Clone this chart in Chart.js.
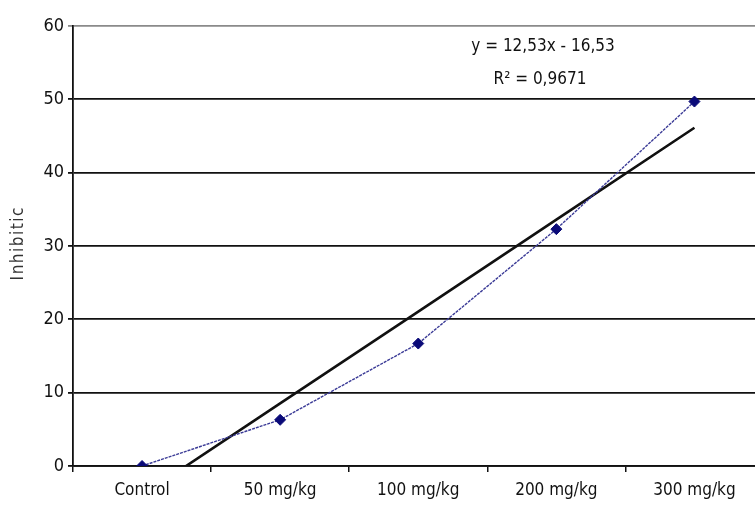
<!DOCTYPE html>
<html>
<head>
<meta charset="utf-8">
<script src="https://cdn.jsdelivr.net/npm/chart.js@4.4.1/dist/chart.umd.min.js"></script>
<style>
  html, body { margin: 0; padding: 0; background: #fff; overflow: hidden; }
  #wrap { width: 770px; height: 515px; }
</style>
</head>
<body>
<div id="wrap"><canvas id="c" width="770" height="515"></canvas></div>
<script>
const categories = ["Control", "50 mg/kg", "100 mg/kg", "200 mg/kg", "300 mg/kg"];
const inhibition = [0, 6.3, 16.7, 32.3, 49.7];
const trendValues = [-4.0, 8.53, 21.06, 33.59, 46.12];
const yTicks = [0, 10, 20, 30, 40, 50, 60];
const equationText = "y = 12,53x - 16,53";
const r2Text = "R\u00B2 = 0,9671";
const yTitle = "Inhibitic";

const FONT = "'DejaVu Sans Condensed', 'Liberation Sans Narrow', 'Liberation Sans', Arial, sans-serif";

const textPlugin = {
  id: 'texts',
  afterDatasetsDraw(chart) {
    const ctx = chart.ctx;
    const area = chart.chartArea;
    ctx.save();
    ctx.fillStyle = '#111';
    ctx.font = "17px " + FONT;
    ctx.textAlign = 'center';
    ctx.textBaseline = 'middle';
    ctx.fillText(equationText, 543, 47);
    ctx.fillText(r2Text, 540, 80);
    ctx.restore();

    ctx.save();
    ctx.fillStyle = '#333';
    ctx.font = "17px 'DejaVu Sans Condensed', 'DejaVu Sans', Arial, sans-serif";
    if ('letterSpacing' in ctx) ctx.letterSpacing = '1.5px';
    ctx.textAlign = 'center';
    ctx.textBaseline = 'middle';
    ctx.translate(19, (area.top + area.bottom) / 2 - 2);
    ctx.rotate(-Math.PI / 2);
    ctx.fillText(yTitle, 0.75, 0);
    ctx.restore();
  }
};

new Chart(document.getElementById('c'), {
  type: 'line',
  data: {
    labels: categories,
    datasets: [
      {
        label: 'Inhibition',
        data: inhibition,
        borderColor: '#3a3a96',
        borderWidth: 1.4,
        borderDash: [3, 1],
        pointStyle: 'rectRot',
        pointRadius: 5.5,
        pointBackgroundColor: '#0a0a78',
        pointBorderColor: '#0a0a78',
        pointBorderWidth: 1,
        tension: 0,
        order: 1
      },
      {
        label: 'Trend',
        data: trendValues,
        borderColor: '#111',
        borderWidth: 2.6,
        pointRadius: 0,
        tension: 0,
        order: 2
      }
    ]
  },
  options: {
    responsive: false,
    animation: false,
    layout: { padding: { top: 26, right: 3, bottom: 0, left: 0 } },
    plugins: {
      legend: { display: false },
      tooltip: { enabled: false }
    },
    scales: {
      x: {
        offset: true,
        grid: {
          offset: true,
          drawOnChartArea: false,
          drawTicks: true,
          tickLength: 6,
          color: '#111',
          lineWidth: 1.5
        },
        border: { display: true, color: '#111', width: 1.8 },
        ticks: {
          color: '#111',
          font: { family: FONT, size: 17 },
          padding: 8,
          maxRotation: 0,
          autoSkip: false
        },
        afterFit(scale) { scale.height = 49; }
      },
      y: {
        min: 0,
        max: 60,
        afterBuildTicks(scale) { scale.ticks = yTicks.map(v => ({ value: v })); },
        grid: {
          color: (c) => (c.tick && c.tick.value === 60) ? '#8a8a8a' : '#111',
          lineWidth: 1.8,
          drawTicks: true,
          tickLength: 5
        },
        border: { display: true, color: '#111', width: 1.8 },
        ticks: {
          color: '#111',
          font: { family: FONT, size: 18 },
          padding: 4
        },
        afterFit(scale) { scale.width = 73; }
      }
    }
  },
  plugins: [textPlugin]
});
</script>
</body>
</html>
